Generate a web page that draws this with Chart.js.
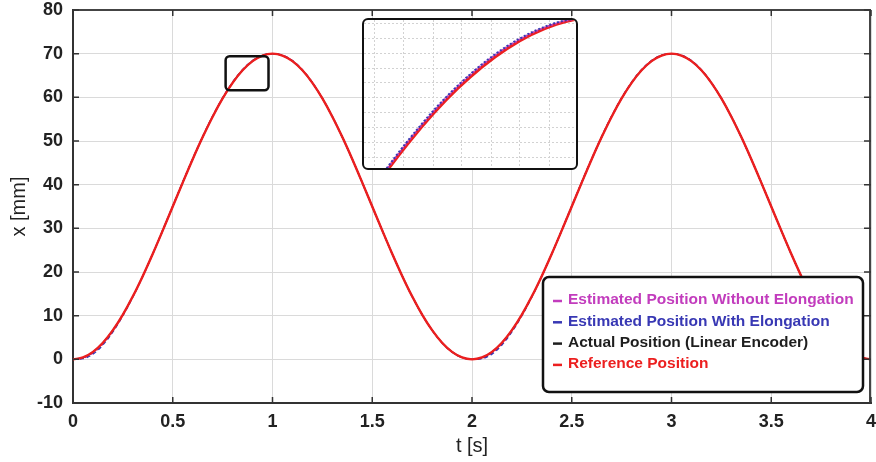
<!DOCTYPE html>
<html>
<head>
<meta charset="utf-8">
<script src="https://cdn.jsdelivr.net/npm/chart.js@4.4.0/dist/chart.umd.min.js"></script>
<style>
  html, body { margin: 0; padding: 0; background: #fff; }
  #wrap { position: relative; width: 876px; height: 462px; }
  #zoomBox { position: absolute; left: 362px; top: 18px; width: 212px; height: 148px;
             border: 2.5px solid #111; border-radius: 6px; background: #fff; overflow: hidden; }
  #zoomBox canvas { display: block; }
</style>
</head>
<body>
<div id="wrap">
  <canvas id="mainChart" width="876" height="462"></canvas>
  <div id="zoomBox"><canvas id="zoomChart" width="212" height="148"></canvas></div>
</div>
<script>
// --- DANE ---
const times = [0, 0.05, 0.1, 0.15, 0.2, 0.25, 0.3, 0.35, 0.4, 0.45, 0.5, 0.55, 0.6, 0.65, 0.7, 0.75, 0.8, 0.85, 0.9, 0.95, 1,
  1.05, 1.1, 1.15, 1.2, 1.25, 1.3, 1.35, 1.4, 1.45, 1.5, 1.55, 1.6, 1.65, 1.7, 1.75, 1.8, 1.85, 1.9, 1.95, 2,
  2.05, 2.1, 2.15, 2.2, 2.25, 2.3, 2.35, 2.4, 2.45, 2.5, 2.55, 2.6, 2.65, 2.7, 2.75, 2.8, 2.85, 2.9, 2.95, 3,
  3.05, 3.1, 3.15, 3.2, 3.25, 3.3, 3.35, 3.4, 3.45, 3.5, 3.55, 3.6, 3.65, 3.7, 3.75, 3.8, 3.85, 3.9, 3.95, 4];

const estWithoutElong = [0, 0.25, 1.4, 3.5, 6.45, 10.1, 14.35, 19.08, 24.2, 29.58, 35.06, 40.55, 45.9, 50.97, 55.66, 59.85, 63.42, 66.3, 68.38, 69.62, 70,
  69.62, 68.35, 66.25, 63.36, 59.77, 55.58, 50.89, 45.81, 40.46, 34.99, 29.52, 24.17, 19.1, 14.42, 10.24, 6.67, 3.8, 1.7, 0.43, 0,
  0.25, 1.4, 3.5, 6.45, 10.1, 14.35, 19.08, 24.2, 29.58, 35.06, 40.55, 45.9, 50.97, 55.66, 59.85, 63.42, 66.3, 68.38, 69.62, 70,
  69.62, 68.35, 66.25, 63.36, 59.77, 55.58, 50.89, 45.81, 40.46, 34.99, 29.52, 24.17, 19.1, 14.42, 10.24, 6.67, 3.8, 1.7, 0.43, 0];

const estWithElong = [0, 0.15, 1.2, 3.3, 6.3, 10.0, 14.3, 19.05, 24.2, 29.6, 35.1, 40.6, 45.95, 51.02, 55.7, 59.9, 63.47, 66.34, 68.42, 69.66, 70,
  69.65, 68.4, 66.28, 63.38, 59.78, 55.58, 50.88, 45.8, 40.45, 34.98, 29.5, 24.15, 19.08, 14.4, 10.22, 6.65, 3.78, 1.68, 0.42, 0,
  0.15, 1.2, 3.3, 6.3, 10.0, 14.3, 19.05, 24.2, 29.6, 35.1, 40.6, 45.95, 51.02, 55.7, 59.9, 63.47, 66.34, 68.42, 69.66, 70,
  69.65, 68.4, 66.28, 63.38, 59.78, 55.58, 50.88, 45.8, 40.45, 34.98, 29.5, 24.15, 19.08, 14.4, 10.22, 6.65, 3.78, 1.68, 0.42, 0];

const actualPos = [0, 0.38, 1.66, 3.78, 6.66, 10.24, 14.42, 19.1, 24.18, 29.53, 35, 40.47, 45.82, 50.89, 55.57, 59.75, 63.33, 66.2, 68.3, 69.58, 70,
  69.57, 68.29, 66.19, 63.32, 59.75, 55.57, 50.89, 45.82, 40.47, 35, 29.53, 24.18, 19.11, 14.43, 10.25, 6.68, 3.81, 1.71, 0.43, 0,
  0.38, 1.66, 3.78, 6.66, 10.24, 14.42, 19.1, 24.18, 29.53, 35, 40.47, 45.82, 50.89, 55.57, 59.75, 63.33, 66.2, 68.3, 69.58, 70,
  69.57, 68.29, 66.19, 63.32, 59.75, 55.57, 50.89, 45.82, 40.47, 35, 29.53, 24.18, 19.11, 14.43, 10.25, 6.68, 3.81, 1.71, 0.43, 0];

const refPos = [0, 0.43, 1.71, 3.81, 6.68, 10.25, 14.43, 19.11, 24.18, 29.53, 35, 40.47, 45.82, 50.89, 55.57, 59.75, 63.32, 66.19, 68.29, 69.57, 70,
  69.57, 68.29, 66.19, 63.32, 59.75, 55.57, 50.89, 45.82, 40.47, 35, 29.53, 24.18, 19.11, 14.43, 10.25, 6.68, 3.81, 1.71, 0.43, 0,
  0.43, 1.71, 3.81, 6.68, 10.25, 14.43, 19.11, 24.18, 29.53, 35, 40.47, 45.82, 50.89, 55.57, 59.75, 63.32, 66.19, 68.29, 69.57, 70,
  69.57, 68.29, 66.19, 63.32, 59.75, 55.57, 50.89, 45.82, 40.47, 35, 29.53, 24.18, 19.11, 14.43, 10.25, 6.68, 3.81, 1.71, 0.43, 0];

const xTicks = [0, 0.5, 1, 1.5, 2, 2.5, 3, 3.5, 4];
const xTickLabels = ['0', '0.5', '1', '1.5', '2', '2.5', '3', '3.5', '4'];
const yTicks = [-10, 0, 10, 20, 30, 40, 50, 60, 70, 80];
const yTickLabels = ['-10', '0', '10', '20', '30', '40', '50', '60', '70', '80'];

const seriesNames = [
  'Estimated Position Without Elongation',
  'Estimated Position With Elongation',
  'Actual Position (Linear Encoder)',
  'Reference Position'
];
const seriesColors = ['#c23cbd', '#3838b4', '#1e1e1e', '#ec1f1f'];

// okno powiększenia (jednostki danych)
const zoomT = [0.765, 0.98];
const zoomX = [61.6, 69.4];
const insetT = [0.755, 0.97];
const insetX = [62, 69.8];
const insetTGrid = [0.766, 0.795, 0.825, 0.854, 0.884, 0.913, 0.943];
const insetXGrid = [62.53, 63.32, 64.11, 64.9, 65.69, 66.48, 67.27, 68.06, 68.85, 69.64];

const FONT = '"Liberation Sans", Arial, sans-serif';

const toPoints = vals => times.map((t, i) => ({ x: t, y: vals[i] }));

// --- ZESTAWY DANYCH ---
const makeDatasets = (inset) => [{
    label: seriesNames[0],
    data: toPoints(estWithoutElong),
    borderColor: seriesColors[0],
    borderWidth: inset ? 2 : 1.4,
    borderDash: inset ? [2, 2] : [4, 3],
    borderDashOffset: 2,
    order: inset ? 1 : 3
  }, {
    label: seriesNames[1],
    data: toPoints(estWithElong),
    borderColor: seriesColors[1],
    borderWidth: inset ? 2 : 1.4,
    borderDash: inset ? [2, 2] : [4, 3],
    order: inset ? 0 : 2
  }, {
    label: seriesNames[2],
    data: toPoints(actualPos),
    borderColor: seriesColors[2],
    borderWidth: 1.4,
    order: inset ? 3 : 1
  }, {
    label: seriesNames[3],
    data: toPoints(refPos),
    borderColor: seriesColors[3],
    borderWidth: inset ? 3 : 2.4,
    order: inset ? 2 : 0
  }].map(ds => Object.assign(ds, {
    pointRadius: 0,
    fill: false,
    cubicInterpolationMode: 'monotone'
  }));

// bez dodatkowego marginesu na etykiety skrajne
const noEdgePad = s => {
  s.paddingLeft = 0;
  s.paddingRight = 0;
  s.paddingTop = 0;
  s.paddingBottom = 0;
};

// --- RAMKA, ZNACZNIKI, PROSTOKĄT POWIĘKSZENIA I LEGENDA ---
const framePlugin = {
  id: 'frame',
  afterDatasetsDraw(chart) {
    const { ctx, chartArea: a, scales: { x, y } } = chart;
    ctx.save();

    // górna i prawa krawędź
    ctx.strokeStyle = '#444';
    ctx.lineWidth = 2;
    ctx.beginPath();
    ctx.moveTo(a.left, a.top);
    ctx.lineTo(a.right - 1, a.top);
    ctx.lineTo(a.right - 1, a.bottom);
    ctx.stroke();

    // znaczniki skierowane do środka (wszystkie cztery boki)
    ctx.strokeStyle = '#333';
    ctx.lineWidth = 1.5;
    ctx.beginPath();
    xTicks.forEach(v => {
      const px = x.getPixelForValue(v);
      ctx.moveTo(px, a.bottom);
      ctx.lineTo(px, a.bottom - 6);
      ctx.moveTo(px, a.top);
      ctx.lineTo(px, a.top + 6);
    });
    yTicks.forEach(v => {
      const py = y.getPixelForValue(v);
      ctx.moveTo(a.left, py);
      ctx.lineTo(a.left + 6, py);
      ctx.moveTo(a.right, py);
      ctx.lineTo(a.right - 7, py);
    });
    ctx.stroke();

    // mały prostokąt powiększenia
    const zx1 = x.getPixelForValue(zoomT[0]);
    const zx2 = x.getPixelForValue(zoomT[1]);
    const zy1 = y.getPixelForValue(zoomX[1]);
    const zy2 = y.getPixelForValue(zoomX[0]);
    ctx.strokeStyle = '#111';
    ctx.lineWidth = 2.5;
    ctx.beginPath();
    ctx.roundRect(zx1, zy1, zx2 - zx1, zy2 - zy1, 4);
    ctx.stroke();

    // legenda
    const lx = 543, ly = 277, lw = 320, lh = 115;
    ctx.beginPath();
    ctx.roundRect(lx, ly, lw, lh, 6);
    ctx.fillStyle = '#fff';
    ctx.fill();
    ctx.lineWidth = 2.5;
    ctx.strokeStyle = '#111';
    ctx.stroke();

    ctx.font = 'bold 15.5px ' + FONT;
    ctx.textBaseline = 'middle';
    ctx.textAlign = 'left';
    seriesNames.forEach((name, i) => {
      const cy = ly + 23 + i * 21.3;
      ctx.strokeStyle = seriesColors[i];
      ctx.lineWidth = 2.5;
      ctx.beginPath();
      ctx.moveTo(lx + 10, cy + 1);
      ctx.lineTo(lx + 19, cy + 1);
      ctx.stroke();
      ctx.fillStyle = seriesColors[i];
      ctx.fillText(name, lx + 25, cy);
    });
    ctx.restore();
  }
};

// --- GŁÓWNY WYKRES ---
const mainCtx = document.getElementById('mainChart').getContext('2d');
new Chart(mainCtx, {
  type: 'line',
  data: { datasets: makeDatasets(false) },
  options: {
    responsive: false,
    animation: false,
    layout: { autoPadding: false, padding: { left: 0, right: 5, top: 10, bottom: 0 } },
    plugins: { legend: { display: false }, tooltip: { enabled: false } },
    scales: {
      x: {
        type: 'linear',
        min: 0,
        max: 4,
        afterBuildTicks: s => { s.ticks = xTicks.map(v => ({ value: v })); },
        afterFit: s => { s.height = 59; noEdgePad(s); },
        ticks: {
          autoSkip: false,
          maxRotation: 0,
          padding: 8,
          color: '#222',
          font: { family: FONT, size: 18, weight: 'bold' },
          callback: (v, i) => xTickLabels[i]
        },
        grid: { color: '#dadada', drawTicks: false },
        border: { display: true, color: '#333', width: 2 },
        title: {
          display: true,
          text: 't [s]',
          color: '#222',
          font: { family: FONT, size: 20 },
          padding: { bottom: 4 }
        }
      },
      y: {
        type: 'linear',
        min: -10,
        max: 80,
        afterBuildTicks: s => { s.ticks = yTicks.map(v => ({ value: v })); },
        afterFit: s => { s.width = 73; noEdgePad(s); },
        ticks: {
          autoSkip: false,
          padding: 10,
          color: '#222',
          font: { family: FONT, size: 18, weight: 'bold' },
          callback: (v, i) => yTickLabels[i]
        },
        grid: { color: '#dadada', drawTicks: false },
        border: { display: true, color: '#333', width: 2 },
        title: {
          display: true,
          text: 'x [mm]',
          color: '#222',
          font: { family: FONT, size: 20 },
          padding: { top: 7 }
        }
      }
    }
  },
  plugins: [framePlugin]
});

// --- WSTAWKA Z POWIĘKSZENIEM ---
const zoomCtx = document.getElementById('zoomChart').getContext('2d');
new Chart(zoomCtx, {
  type: 'line',
  data: { datasets: makeDatasets(true) },
  options: {
    responsive: false,
    animation: false,
    layout: { autoPadding: false, padding: 0 },
    plugins: { legend: { display: false }, tooltip: { enabled: false } },
    scales: {
      x: {
        type: 'linear',
        min: insetT[0],
        max: insetT[1],
        afterBuildTicks: s => { s.ticks = insetTGrid.map(v => ({ value: v })); },
        afterFit: s => { s.height = 0; noEdgePad(s); },
        ticks: { display: false },
        grid: { color: '#d2d2d2', drawTicks: false },
        border: { display: false, dash: [2, 2] }
      },
      y: {
        type: 'linear',
        min: insetX[0],
        max: insetX[1],
        afterBuildTicks: s => { s.ticks = insetXGrid.map(v => ({ value: v })); },
        afterFit: s => { s.width = 0; noEdgePad(s); },
        ticks: { display: false },
        grid: { color: '#d2d2d2', drawTicks: false },
        border: { display: false, dash: [2, 2] }
      }
    }
  }
});
</script>
</body>
</html>
